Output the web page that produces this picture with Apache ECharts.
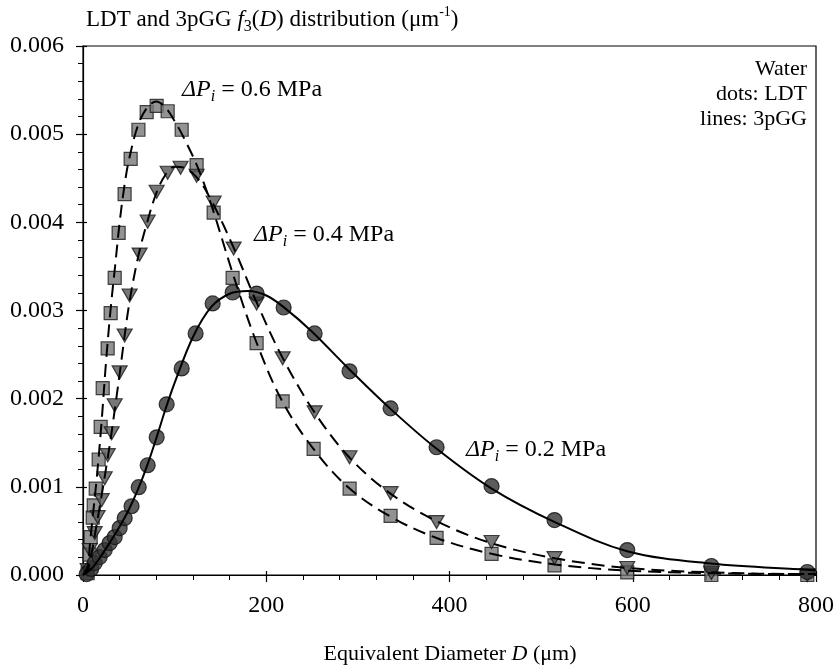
<!DOCTYPE html>
<html><head><meta charset="utf-8">
<script src="https://cdn.jsdelivr.net/npm/echarts@6/dist/echarts.min.js"></script>
<style>html,body{margin:0;padding:0;background:#fff}#c{width:837px;height:669px}</style>
</head><body><div id="c"></div>
<script>
const FONT = '"Liberation Serif", "Times New Roman", serif';

// axis ticks
const xTicks = [0, 200, 400, 600, 800];
const yTicks = [0.000, 0.001, 0.002, 0.003, 0.004, 0.005, 0.006];

// LDT dots, ΔPi = 0.2 MPa (circles)
const dotD_02 = [4, 9, 12.8, 18.2, 23.7, 29.1, 34.6, 40, 45.5, 53, 60.8, 70.6, 80.4, 91.3, 107.7, 122.9, 141.5, 163.3, 189.5, 219, 252.8, 290.9, 335.7, 385.9, 445.9, 514.6, 594, 685.8, 790.5];
const dotF_02 = [0.00001, 0.00007, 0.000136, 0.000204, 0.000283, 0.000362, 0.00043, 0.000532, 0.000645, 0.00078, 0.000996, 0.001245, 0.001562, 0.001936, 0.002343, 0.00274, 0.00308, 0.003204, 0.003192, 0.003034, 0.00274, 0.00231, 0.00189, 0.001449, 0.001008, 0.000623, 0.000283, 0.000102, 0.000034];

// LDT dots, ΔPi = 0.4 MPa (down triangles)
const dotD_04 = [5.1, 7.3, 12.8, 16, 20.4, 23.7, 27, 31.3, 34.6, 40, 45.5, 50.9, 61.8, 70.6, 80.4, 92.4, 106.5, 124, 142.6, 164.4, 189.5, 217.9, 252.8, 290.9, 335.7, 385.9, 445.9, 514.6, 594, 685.8, 790.5];
const dotF_04 = [0.000057, 0.000283, 0.000475, 0.000657, 0.000849, 0.001098, 0.001359, 0.001608, 0.001925, 0.002298, 0.002717, 0.00317, 0.003634, 0.004008, 0.004347, 0.004562, 0.004619, 0.004528, 0.004223, 0.003702, 0.003079, 0.002457, 0.001845, 0.001336, 0.000928, 0.0006, 0.000374, 0.000192, 0.000079, 0.000023, 0.0];

// LDT dots, ΔPi = 0.6 MPa (squares)
const dotD_06 = [5.1, 7.3, 8.4, 10.6, 11.7, 13.9, 17.1, 19.3, 21.5, 26.9, 30.2, 34.6, 38.9, 45.4, 52, 60.5, 69.5, 80.4, 92.4, 107.7, 124, 142.6, 163.3, 189.5, 217.9, 251.7, 291, 335.7, 385.9, 445.9, 514.6, 594, 685.8, 790.5];
const dotF_06 = [0.00002, 0.00023, 0.00043, 0.00065, 0.00079, 0.00098, 0.00131, 0.00168, 0.00212, 0.00257, 0.00297, 0.00337, 0.00388, 0.00432, 0.00472, 0.00505, 0.00525, 0.00532, 0.00526, 0.00505, 0.00465, 0.00411, 0.00337, 0.00263, 0.00197, 0.00143, 0.00098, 0.00067, 0.00042, 0.00024, 0.00011, 0.00003, 0.0, 0.0];

// 3pGG lines
const lineD_02 = [0, 10, 20, 30, 40, 50, 60, 70, 80, 90, 100, 120, 140, 160, 180, 200, 220, 250, 290, 335, 385, 446, 515, 594, 685, 790, 800];
const lineF_02 = [0, 0.00008, 0.00022, 0.00038, 0.00055, 0.00074, 0.00097, 0.00124, 0.00155, 0.00188, 0.00218, 0.0027, 0.00304, 0.00319, 0.00322, 0.00317, 0.00303, 0.00276, 0.00234, 0.00189, 0.00144, 0.00098, 0.0006, 0.00027, 0.00013, 0.00006, 0.000055];

const lineD_04 = [0, 5, 10, 15, 20, 25, 30, 35, 40, 50, 60, 70, 80, 90, 100, 110, 125, 140, 165, 190, 218, 253, 291, 336, 386, 446, 515, 594, 686, 790, 800];
const lineF_04 = [0, 0.00005, 0.00028, 0.00058, 0.00088, 0.0012, 0.00153, 0.0019, 0.00228, 0.00305, 0.0036, 0.004, 0.00433, 0.00454, 0.00463, 0.00462, 0.0045, 0.00425, 0.0037, 0.00308, 0.00246, 0.00184, 0.00133, 0.00092, 0.00061, 0.00036, 0.00019, 0.00008, 0.00003, 0.00001, 0.00001];

const lineD_06 = [0, 5, 8, 10, 15, 20, 25, 30, 35, 40, 45, 50, 60, 70, 80, 90, 100, 110, 125, 140, 165, 190, 218, 253, 291, 336, 386, 446, 515, 594, 686, 790, 800];
const lineF_06 = [0, 0.0001, 0.0004, 0.0006, 0.0011, 0.0017, 0.0024, 0.003, 0.0035, 0.004, 0.0044, 0.0047, 0.0051, 0.0053, 0.00537, 0.0053, 0.00515, 0.00496, 0.00463, 0.0042, 0.00337, 0.00262, 0.00196, 0.00141, 0.00098, 0.00066, 0.00042, 0.00024, 0.00012, 0.00005, 0.00002, 0.00001, 0.00001];

const zip = (a, b) => a.map((v, i) => [v, b[i]]);

const GRID = {left: 83, right: 20, top: 46, bottom: 94};

function makeRich(fs) {
  return {
    n: {fontFamily: FONT, fontSize: fs, lineHeight: 30, color: '#000'},
    it: {fontFamily: FONT, fontSize: fs, lineHeight: 30, fontStyle: 'italic', color: '#000'},
    sub: {fontFamily: FONT, fontSize: Math.round(fs * 0.65), lineHeight: 12, fontStyle: 'italic', verticalAlign: 'bottom', color: '#000'},
    subn: {fontFamily: FONT, fontSize: Math.round(fs * 0.68), lineHeight: 12, verticalAlign: 'bottom', color: '#000'},
    sup: {fontFamily: FONT, fontSize: Math.round(fs * 0.62), lineHeight: 15, verticalAlign: 'top', color: '#000'}
  };
}

function richText(x, y, text, fs, align) {
  return {
    type: 'text', x: x, y: y, z: 100,
    style: {text: text, rich: makeRich(fs), align: align || 'left', verticalAlign: 'top', fill: '#000',
      font: fs + 'px ' + FONT}
  };
}

const chart = echarts.init(document.getElementById('c'), null, {renderer: 'canvas'});

const axisLabelStyle = {fontFamily: FONT, fontSize: 24, color: '#000'};

chart.setOption({
  animation: false,
  backgroundColor: '#fff',
  grid: Object.assign({show: true, borderColor: '#000', borderWidth: 1.2, backgroundColor: 'transparent'}, GRID),
  xAxis: [{
    type: 'value', min: xTicks[0], max: xTicks[xTicks.length - 1], interval: 200,
    axisLine: {onZero: false, lineStyle: {color: '#000', width: 1.2}},
    axisTick: {show: true, inside: false, length: 7, lineStyle: {color: '#000', width: 1.2}},
    minorTick: {show: true, splitNumber: 5, length: 5, lineStyle: {color: '#000', width: 1}},
    axisLabel: Object.assign({margin: 19, formatter: v => String(v)}, axisLabelStyle),
    splitLine: {show: false}
  }, {
    type: 'value', position: 'bottom', min: 0, max: 800, interval: 200,
    axisLine: {show: false}, axisLabel: {show: false}, splitLine: {show: false},
    axisTick: {show: true, inside: true, length: 4, lineStyle: {color: '#000', width: 1.2}}
  }],
  yAxis: [{
    type: 'value', min: yTicks[0], max: yTicks[yTicks.length - 1], interval: 0.001,
    axisLine: {show: true, onZero: false, lineStyle: {color: '#000', width: 1.2}},
    axisTick: {show: true, inside: false, length: 7, lineStyle: {color: '#000', width: 1.2}},
    minorTick: {show: true, splitNumber: 5, length: 5, lineStyle: {color: '#000', width: 1}},
    axisLabel: Object.assign({margin: 19, formatter: v => v.toFixed(3)}, axisLabelStyle),
    splitLine: {show: false}
  }, {
    type: 'value', position: 'left', min: 0, max: 0.006, interval: 0.001,
    axisLine: {show: false}, axisLabel: {show: false}, splitLine: {show: false},
    axisTick: {show: true, inside: true, length: 4, lineStyle: {color: '#000', width: 1.2}}
  }],
  series: [
    {type: 'scatter', name: 'LDT 0.6', data: zip(dotD_06, dotF_06), symbol: 'rect', symbolSize: 13, z: 2,
      itemStyle: {color: '#787878', borderColor: '#1a1a1a', borderWidth: 1.2}},
    {type: 'scatter', name: 'LDT 0.4', data: zip(dotD_04, dotF_04), symbol: 'triangle', symbolRotate: 180, symbolSize: [15, 13], z: 3,
      itemStyle: {color: '#555555', borderColor: '#1a1a1a', borderWidth: 1.2}},
    {type: 'scatter', name: 'LDT 0.2', data: zip(dotD_02, dotF_02), symbol: 'circle', symbolSize: 15, z: 4,
      itemStyle: {color: '#333333', borderColor: '#111111', borderWidth: 1.2}},
    {type: 'line', name: '3pGG 0.6', data: zip(lineD_06, lineF_06), showSymbol: false, smooth: 0.35, z: 10,
      lineStyle: {color: '#000', width: 2, type: [13, 7]}},
    {type: 'line', name: '3pGG 0.4', data: zip(lineD_04, lineF_04), showSymbol: false, smooth: 0.35, z: 10,
      lineStyle: {color: '#000', width: 2, type: [13, 7]}},
    {type: 'line', name: '3pGG 0.2', data: zip(lineD_02, lineF_02), showSymbol: false, smooth: 0.35, z: 10,
      lineStyle: {color: '#000', width: 2, type: 'solid'}}
  ],
  graphic: [
    richText(86, 5, '{n|LDT and 3pGG }{it|f}{subn|3}{n|(}{it|D}{n|) distribution (μm}{sup|-1}{n|)}', 23),
    richText(182, 75, '{it|ΔP}{sub|i}{n| = 0.6 MPa}', 24),
    richText(254, 220, '{it|ΔP}{sub|i}{n| = 0.4 MPa}', 24),
    richText(466, 435, '{it|ΔP}{sub|i}{n| = 0.2 MPa}', 24),
    {type: 'text', x: 807, y: 57, z: 100, style: {text: 'Water\ndots: LDT\nlines: 3pGG', align: 'right', verticalAlign: 'top',
      font: '22px ' + FONT, lineHeight: 25, fill: '#000'}},
    richText(450, 639, '{n|Equivalent Diameter }{it|D}{n| (μm)}', 22, 'center')
  ]
});
</script>
</body></html>
